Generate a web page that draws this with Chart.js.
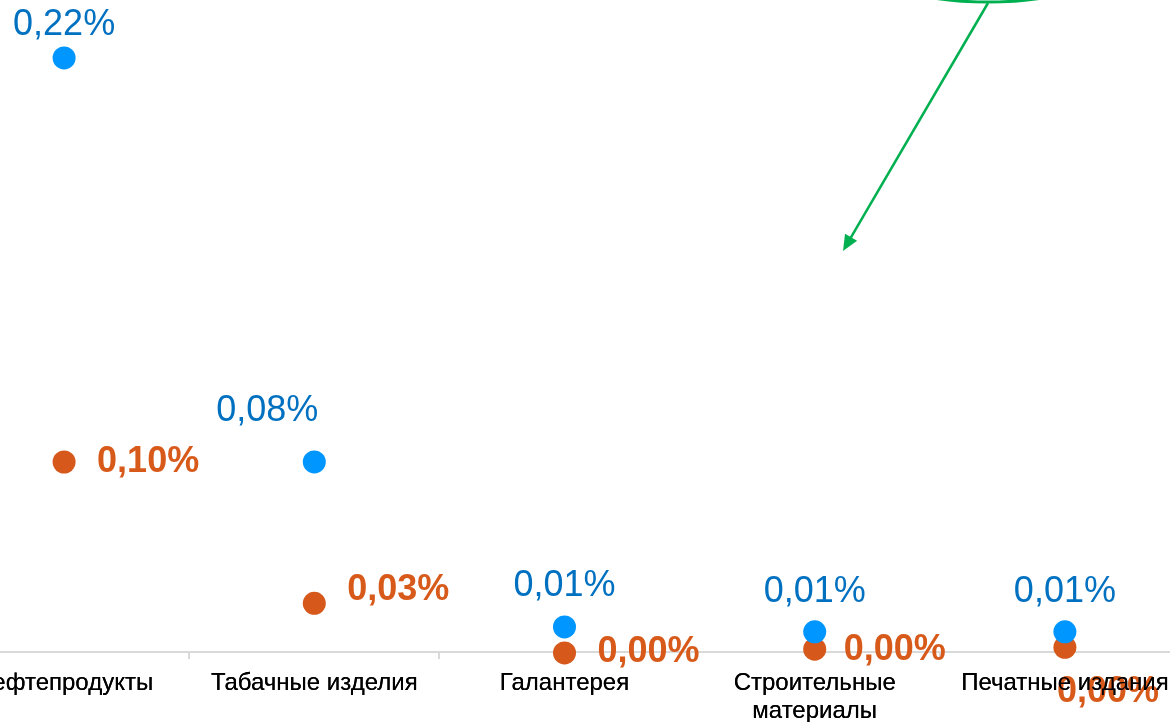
<!DOCTYPE html>
<html lang="ru">
<head>
    <meta charset="UTF-8">
    <title>Chart</title>
    <script src="https://cdn.jsdelivr.net/npm/chart.js"></script>
    <style>
        html, body { margin: 0; padding: 0; background: #fff; overflow: hidden; width: 1170px; height: 722px; }
        #wrap { position: absolute; left: -61px; top: 0; width: 1251px; height: 722px; }
    </style>
</head>
<body>
    <div id="wrap"><canvas id="chart" width="1251" height="722"></canvas></div>
    <script>
        // data (values in percent)
        const categories = ['Нефтепродукты', 'Табачные изделия', 'Галантерея', ['Строительные', 'материалы'], 'Печатные издания'];
        const blueValues = [0.2248, 0.0757, 0.0148, 0.0130, 0.0130];
        const orangeValues = [0.100, 0.026, 0.000, 0.002, 0.003];

        const FONT = "'Liberation Sans', Arial, sans-serif";
        const SHIFT = 61; // canvas starts 61px left of the page

        function fmt(v) {
            return (Math.round(v * 100) / 100).toFixed(2).replace('.', ',') + '%';
        }

        // label offsets from point centre (baseline)
        const blueOffsets = [[0, -23], [-47, -41], [0, -31], [0, -30], [0, -30]];
        const orangeOffsets = [[33, 10], [33, -3], [33, 9], [29, 11], [-8, 55]];

        const labelsPlugin = {
            id: 'pointLabels',
            afterDraw(chart) {
                const ctx = chart.ctx;
                ctx.save();
                ctx.textBaseline = 'alphabetic';
                const blue = chart.getDatasetMeta(0).data;
                ctx.font = '36px ' + FONT;
                ctx.fillStyle = '#0070C0';
                ctx.textAlign = 'center';
                blue.forEach((p, i) => {
                    ctx.fillText(fmt(blueValues[i]), p.x + blueOffsets[i][0], p.y + blueOffsets[i][1]);
                });
                const orange = chart.getDatasetMeta(1).data;
                ctx.font = 'bold 36px ' + FONT;
                ctx.fillStyle = '#D85A1A';
                ctx.textAlign = 'left';
                orange.forEach((p, i) => {
                    ctx.fillText(fmt(orangeValues[i]), p.x + orangeOffsets[i][0], p.y + orangeOffsets[i][1]);
                });

                // green callout and arrow
                ctx.strokeStyle = '#00B050';
                ctx.fillStyle = '#00B050';
                ctx.lineWidth = 3;
                ctx.beginPath();
                ctx.ellipse(988 + SHIFT, -36, 120, 38, 0, 0, Math.PI * 2);
                ctx.stroke();
                const x1 = 988 + SHIFT, y1 = 3, x2 = 843 + SHIFT, y2 = 251;
                const ang = Math.atan2(y2 - y1, x2 - x1);
                ctx.lineWidth = 2.5;
                ctx.beginPath();
                ctx.moveTo(x1, y1);
                ctx.lineTo(x2 - 12 * Math.cos(ang), y2 - 12 * Math.sin(ang));
                ctx.stroke();
                ctx.beginPath();
                ctx.moveTo(x2, y2);
                ctx.lineTo(x2 - 16 * Math.cos(ang) + 7 * Math.sin(ang), y2 - 16 * Math.sin(ang) - 7 * Math.cos(ang));
                ctx.lineTo(x2 - 16 * Math.cos(ang) - 7 * Math.sin(ang), y2 - 16 * Math.sin(ang) + 7 * Math.cos(ang));
                ctx.closePath();
                ctx.fill();
                ctx.restore();

                // category names sit above the point labels
                chart.scales.x.drawLabels(chart.chartArea);
            }
        };

        new Chart(document.getElementById('chart').getContext('2d'), {
            type: 'line',
            data: {
                labels: categories,
                datasets: [
                    {
                        label: 'blue',
                        data: blueValues,
                        yAxisID: 'yBlue',
                        showLine: false,
                        pointRadius: 11.5,
                        pointHoverRadius: 11.5,
                        pointBackgroundColor: '#0096FF',
                        pointBorderWidth: 0,
                        clip: false
                    },
                    {
                        label: 'orange',
                        data: orangeValues,
                        yAxisID: 'yOrange',
                        showLine: false,
                        pointRadius: 11.5,
                        pointHoverRadius: 11.5,
                        pointBackgroundColor: '#D6581A',
                        pointBorderWidth: 0,
                        clip: false
                    }
                ]
            },
            options: {
                responsive: false,
                animation: false,
                devicePixelRatio: 1,
                layout: { padding: 0, autoPadding: false },
                plugins: { legend: { display: false }, tooltip: { enabled: false } },
                scales: {
                    x: {
                        offset: true,
                        afterFit: s => {
                            s.height = 70;
                            s.paddingLeft = 0; s.paddingRight = 0;
                            s.paddingTop = 0; s.paddingBottom = 0;
                        },
                        grid: { drawOnChartArea: false, offset: true, tickLength: 7, color: '#d9d9d9', lineWidth: 2 },
                        border: { display: true, color: '#d9d9d9', width: 2 },
                        ticks: {
                            autoSkip: false, maxRotation: 0, minRotation: 0, padding: 10,
                            color: '#000', font: { family: FONT, size: 24, lineHeight: 1.17 }
                        }
                    },
                    yBlue: { display: false, min: 0.00557, max: 0.24616 },
                    yOrange: { display: false, min: 0.00052, max: 0.3419 }
                }
            },
            plugins: [labelsPlugin]
        });
    </script>
</body>
</html>
